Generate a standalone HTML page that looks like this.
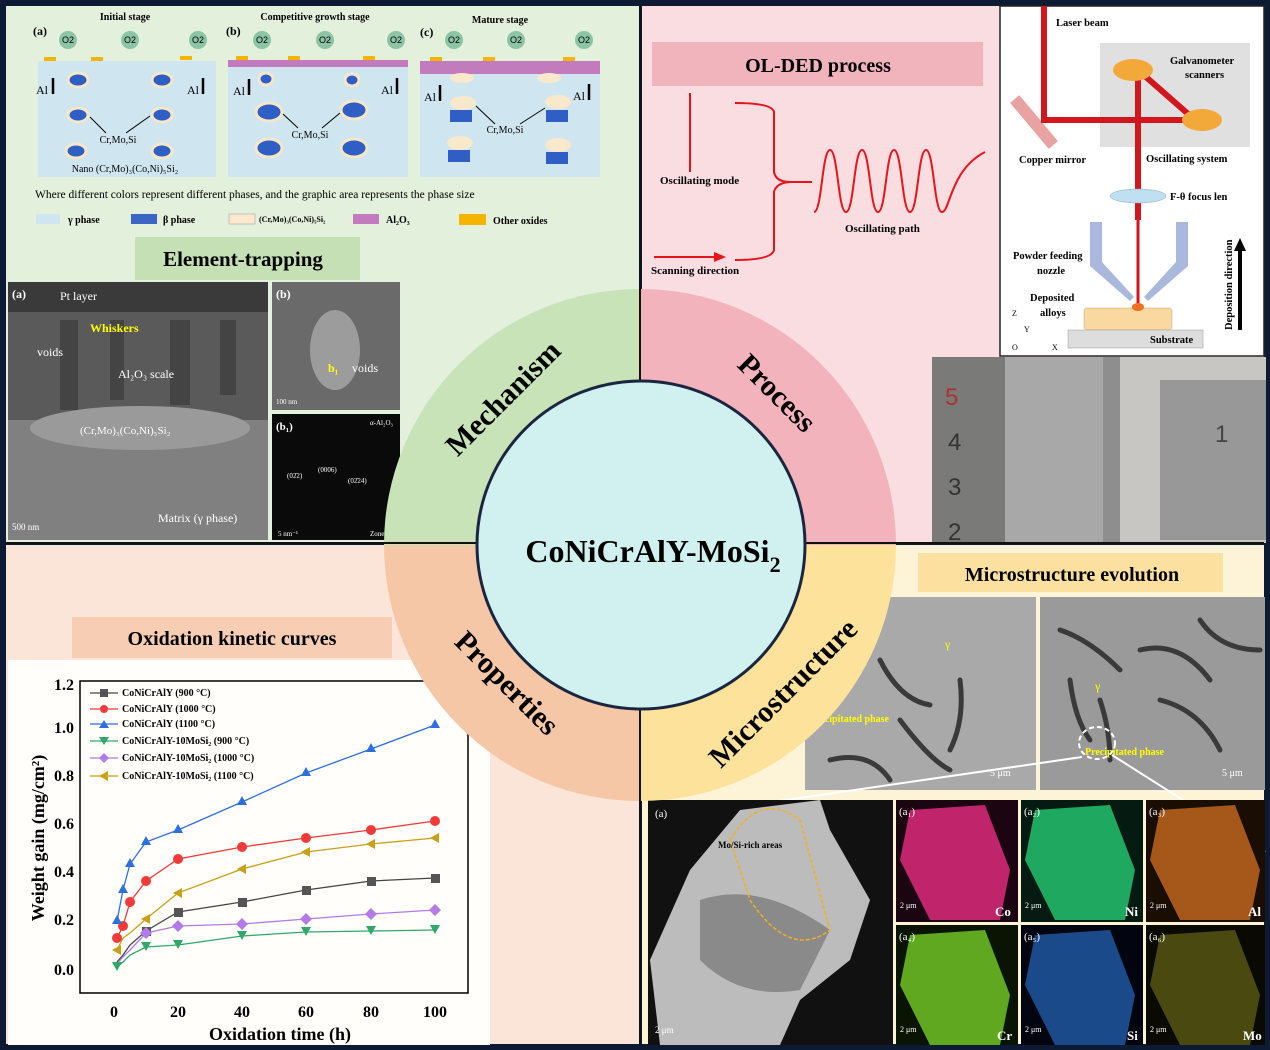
<!DOCTYPE html>
<html><head><meta charset="utf-8"><style>
html,body{margin:0;padding:0;background:#0c1a33;}
svg{display:block;font-family:"Liberation Serif",serif;}
</style></head><body>
<svg width="1270" height="1050" viewBox="0 0 1270 1050" xmlns="http://www.w3.org/2000/svg">
<rect width="1270" height="1050" fill="#0c1a33"/>
<rect x="6" y="6" width="634" height="537" fill="#e3f0dc"/>
<rect x="642" y="6" width="622" height="537" fill="#f9dde1"/>
<rect x="6" y="545" width="634" height="499" fill="#fbe5d8"/>
<rect x="642" y="545" width="622" height="499" fill="#fdf3d7"/>

<!-- TL schematic -->
<g font-size="10" font-weight="bold" text-anchor="middle">
<text x="125" y="20">Initial stage</text>
<text x="315" y="20">Competitive growth stage</text>
<text x="500" y="23">Mature stage</text>
</g>
<g font-size="12" font-weight="bold"><text x="33" y="35">(a)</text><text x="226" y="35">(b)</text><text x="420" y="36">(c)</text></g>
<g fill="#8cc5a6">
<circle cx="68" cy="40" r="9"/><circle cx="130" cy="40" r="9"/><circle cx="198" cy="40" r="9"/>
<circle cx="262" cy="40" r="9"/><circle cx="325" cy="40" r="9"/><circle cx="396" cy="40" r="9"/>
<circle cx="454" cy="40" r="9"/><circle cx="516" cy="40" r="9"/><circle cx="584" cy="40" r="9"/>
</g>
<g font-size="9" text-anchor="middle" font-family="Liberation Sans,sans-serif"><text x="68" y="43">O2</text><text x="130" y="43">O2</text><text x="198" y="43">O2</text><text x="262" y="43">O2</text><text x="325" y="43">O2</text><text x="396" y="43">O2</text><text x="454" y="43">O2</text><text x="516" y="43">O2</text><text x="584" y="43">O2</text></g>
<rect x="38" y="61" width="178" height="116" fill="#cfe6f0"/>
<rect x="228" y="61" width="180" height="116" fill="#cfe6f0"/>
<rect x="420" y="61" width="180" height="116" fill="#cfe6f0"/>
<rect x="228" y="60" width="180" height="7" fill="#c27bbd"/>
<rect x="420" y="61" width="180" height="13" fill="#c27bbd"/>
<g fill="#f4b400"><rect x="44" y="57" width="12" height="4"/><rect x="91" y="57" width="12" height="4"/><rect x="180" y="56" width="12" height="4"/><rect x="236" y="56" width="12" height="4"/><rect x="288" y="56" width="12" height="4"/><rect x="363" y="56" width="12" height="4"/><rect x="430" y="57" width="12" height="4"/><rect x="483" y="57" width="12" height="4"/><rect x="563" y="57" width="12" height="4"/></g>
<g fill="#2f5fc4" stroke="#f5e7c8" stroke-width="3">
<ellipse cx="78" cy="80" rx="10" ry="7"/><ellipse cx="162" cy="80" rx="10" ry="7"/><ellipse cx="78" cy="115" rx="10" ry="7"/><ellipse cx="162" cy="115" rx="10" ry="7"/><ellipse cx="76" cy="151" rx="10" ry="7"/><ellipse cx="162" cy="151" rx="10" ry="7"/>
<ellipse cx="266" cy="79" rx="7" ry="6"/><ellipse cx="352" cy="80" rx="7" ry="6"/><ellipse cx="269" cy="112" rx="13" ry="9"/><ellipse cx="354" cy="110" rx="13" ry="9"/><ellipse cx="269" cy="148" rx="13" ry="9"/><ellipse cx="354" cy="148" rx="13" ry="9"/>
</g>
<g>
<rect x="450" y="110" width="22" height="12" fill="#2f5fc4"/><ellipse cx="463" cy="103" rx="13" ry="7" fill="#f8e8cc"/>
<rect x="546" y="110" width="22" height="12" fill="#2f5fc4"/><ellipse cx="558" cy="102" rx="13" ry="7" fill="#f8e8cc"/>
<rect x="448" y="150" width="22" height="12" fill="#2f5fc4"/><ellipse cx="460" cy="143" rx="13" ry="7" fill="#f8e8cc"/>
<rect x="546" y="152" width="22" height="12" fill="#2f5fc4"/><ellipse cx="558" cy="145" rx="13" ry="7" fill="#f8e8cc"/>
<ellipse cx="462" cy="78" rx="12" ry="5" fill="#f8e8cc"/><ellipse cx="549" cy="78" rx="12" ry="5" fill="#f8e8cc"/>
</g>
<g font-size="12"><text x="36" y="94">Al</text><text x="187" y="94">Al</text><text x="233" y="95">Al</text><text x="381" y="94">Al</text><text x="424" y="101">Al</text><text x="573" y="100">Al</text></g>
<g stroke="#000" stroke-width="2.5"><line x1="53" y1="94" x2="53" y2="78"/><line x1="203" y1="94" x2="203" y2="78"/><line x1="249" y1="95" x2="249" y2="79"/><line x1="397" y1="94" x2="397" y2="78"/><line x1="440" y1="101" x2="440" y2="85"/><line x1="589" y1="100" x2="589" y2="84"/></g>
<g font-size="10" text-anchor="middle"><text x="118" y="143">Cr,Mo,Si</text><text x="310" y="138">Cr,Mo,Si</text><text x="505" y="133">Cr,Mo,Si</text><text x="125" y="172">Nano (Cr,Mo)₃(Co,Ni)₅Si₂</text></g>
<g stroke="#000" stroke-width="1"><line x1="106" y1="133" x2="90" y2="117"/><line x1="126" y1="133" x2="150" y2="116"/><line x1="298" y1="128" x2="283" y2="114"/><line x1="322" y1="128" x2="340" y2="113"/><line x1="495" y1="124" x2="476" y2="106"/><line x1="520" y1="124" x2="545" y2="108"/></g>
<text x="35" y="198" font-size="11.5">Where different colors represent different phases, and the graphic area represents the phase size</text>
<rect x="36" y="214" width="24" height="10" fill="#cfe6f0"/><text x="68" y="223" font-size="10" font-weight="bold">γ phase</text>
<rect x="131" y="214" width="26" height="10" fill="#3a66c4"/><text x="163" y="223" font-size="10" font-weight="bold">β phase</text>
<rect x="229" y="214" width="26" height="10" fill="#fbe8cf" stroke="#999" stroke-width=".5"/><text x="259" y="222" font-size="8" font-weight="bold">(Cr,Mo)₃(Co,Ni)₅Si₂</text>
<rect x="353" y="214" width="26" height="10" fill="#c27bbd"/><text x="386" y="223" font-size="10" font-weight="bold">Al₂O₃</text>
<rect x="459" y="214" width="27" height="11" fill="#f4b400"/><text x="493" y="224" font-size="10" font-weight="bold">Other oxides</text>
<rect x="135" y="237" width="225" height="43" fill="#c5e0b4"/>
<text x="243" y="266" font-size="21" font-weight="bold" text-anchor="middle">Element-trapping</text>
<!-- TEM -->
<rect x="8" y="282" width="260" height="258" fill="#5a5a5a"/>
<rect x="8" y="282" width="260" height="30" fill="#3a3a3a"/>
<rect x="8" y="420" width="260" height="120" fill="#808080"/>
<ellipse cx="140" cy="428" rx="110" ry="22" fill="#9a9a9a"/>
<g fill="#444"><rect x="60" y="320" width="18" height="90"/><rect x="110" y="320" width="14" height="80"/><rect x="170" y="320" width="20" height="85"/><rect x="220" y="320" width="16" height="75"/></g>
<g font-size="12" fill="#fff"><text x="12" y="298" font-weight="bold">(a)</text><text x="60" y="300">Pt layer</text><text x="37" y="356">voids</text><text x="118" y="378">Al₂O₃  scale</text><text x="80" y="434" font-size="11">(Cr,Mo)₃(Co,Ni)₅Si₂</text><text x="158" y="522">Matrix (γ phase)</text><text x="12" y="530" font-size="9">500 nm</text></g>
<text x="90" y="332" font-size="12" font-weight="bold" fill="#ff0">Whiskers</text>
<rect x="272" y="282" width="128" height="128" fill="#6a6a6a"/>
<ellipse cx="335" cy="350" rx="25" ry="40" fill="#9c9c9c"/>
<g font-size="12" fill="#fff"><text x="276" y="298" font-weight="bold">(b)</text><text x="352" y="372">voids</text><text x="276" y="404" font-size="7">100 nm</text></g>
<text x="328" y="372" font-size="12" font-weight="bold" fill="#ff0">b₁</text>
<rect x="272" y="414" width="128" height="126" fill="#0a0a0a"/>
<g font-size="7" fill="#fff"><text x="276" y="430" font-size="11" font-weight="bold">(b₁)</text><text x="370" y="425">α-Al₂O₃</text><text x="287" y="478">(02̄2)</text><text x="318" y="472">(0006)</text><text x="348" y="483">(02̄24)</text><text x="278" y="536">5 nm⁻¹</text><text x="370" y="536">Zone</text></g>

<!-- TR -->
<rect x="652" y="42" width="331" height="44" fill="#f1b4bd"/>
<text x="818" y="72" font-size="20" font-weight="bold" text-anchor="middle">OL-DED process</text>
<g stroke="#e8141a" stroke-width="2" fill="none">
<line x1="690" y1="93" x2="690" y2="172"/>
<path d="M735 103 Q772 103 774 112 L774 172 Q776 182 790 182 Q776 183 774 192 L774 250 Q772 260 735 260"/>
<line x1="790" y1="182" x2="812" y2="182"/>
<path d="M814 212 C822 212 822 150 830 150 C838 150 838 212 846 212 C854 212 854 150 862 150 C870 150 870 212 878 212 C886 212 886 150 894 150 C902 150 902 212 910 212 C918 212 918 150 926 150 C934 150 934 212 942 212 C950 212 950 170 985 152"/>
<line x1="654" y1="257" x2="716" y2="257"/>
</g>
<path d="M726 257 L714 252 L714 262Z" fill="#e8141a"/>
<g font-size="11" font-weight="bold"><text x="660" y="184">Oscillating mode</text><text x="845" y="232">Oscillating path</text><text x="651" y="274">Scanning direction</text></g>
<rect x="1000" y="6" width="264" height="350" fill="#fff" stroke="#222" stroke-width="1.5"/>
<rect x="1100" y="43" width="150" height="104" fill="#e0e0e0"/>
<rect x="1028" y="92" width="12" height="60" fill="#e9a2a2" transform="rotate(-40 1034 122)"/>
<g stroke="#d2161e" stroke-width="6" fill="none"><path d="M1044 6 L1044 120 L1195 120 L1138 70 L1138 220"/></g>
<line x1="1138" y1="220" x2="1138" y2="305" stroke="#d2161e" stroke-width="3"/>
<ellipse cx="1133" cy="70" rx="20" ry="11" fill="#f2a93a"/><ellipse cx="1202" cy="120" rx="20" ry="11" fill="#f2a93a"/>
<ellipse cx="1138" cy="196" rx="28" ry="7" fill="#bfe0f0" stroke="#8ab" stroke-width=".5"/>
<path d="M1090 222 h12 v40 l32 35 l-4 4 l-40 -35Z" fill="#a9b8dc"/>
<path d="M1188 222 h-12 v40 l-32 35 l4 4 l40 -35Z" fill="#a9b8dc"/>
<rect x="1084" y="308" width="88" height="22" rx="3" fill="#f9d9a0" stroke="#c9a060" stroke-width=".5"/>
<ellipse cx="1138" cy="307" rx="6" ry="4" fill="#f07020"/>
<rect x="1068" y="330" width="135" height="18" fill="#ddd" stroke="#999" stroke-width=".5"/>
<line x1="1240" y1="330" x2="1240" y2="250" stroke="#000" stroke-width="4"/><path d="M1240 238 l-6 13 h12Z"/>
<g font-size="10.5" font-weight="bold"><text x="1056" y="26">Laser beam</text><text x="1170" y="64">Galvanometer</text><text x="1185" y="78">scanners</text><text x="1019" y="163">Copper mirror</text><text x="1146" y="162">Oscillating system</text><text x="1170" y="200">F-θ focus len</text><text x="1013" y="259">Powder feeding</text><text x="1037" y="274">nozzle</text><text x="1030" y="301">Deposited</text><text x="1040" y="316">alloys</text><text x="1150" y="343">Substrate</text></g>
<text x="1232" y="330" font-size="10.5" font-weight="bold" transform="rotate(-90 1232 330)">Deposition direction</text>
<g font-size="8"><text x="1012" y="316">Z</text><text x="1012" y="350">O</text><text x="1052" y="350">X</text><text x="1024" y="332">Y</text></g>
<rect x="932" y="357" width="334" height="186" fill="#8e8e8e"/>
<rect x="932" y="357" width="75" height="186" fill="#7a7a78"/>
<rect x="1005" y="357" width="98" height="186" fill="#a8a8a8"/>
<rect x="1120" y="357" width="146" height="186" fill="#c8c6c2"/>
<rect x="1160" y="380" width="106" height="160" fill="#989898"/>
<g font-size="24" fill="#333" font-family="Liberation Sans,sans-serif"><text x="945" y="405" fill="#a33">5</text><text x="948" y="450">4</text><text x="948" y="495">3</text><text x="948" y="540">2</text><text x="1215" y="442" fill="#444">1</text></g>

<!-- BL graph -->
<rect x="8" y="660" width="482" height="385" fill="#fffefb"/>
<rect x="72" y="617" width="320" height="41" fill="#f7cdb3"/>
<text x="232" y="645" font-size="20" font-weight="bold" text-anchor="middle">Oxidation kinetic curves</text>
<rect x="80" y="681" width="388" height="312" fill="none" stroke="#000" stroke-width="1.5"/>
<g font-size="16" font-weight="bold" text-anchor="end"><text x="74" y="690">1.2</text><text x="74" y="733">1.0</text><text x="74" y="781">0.8</text><text x="74" y="829">0.6</text><text x="74" y="877">0.4</text><text x="74" y="925">0.2</text><text x="74" y="975">0.0</text></g>
<g font-size="16" font-weight="bold" text-anchor="middle"><text x="114" y="1017">0</text><text x="178" y="1017">20</text><text x="242" y="1017">40</text><text x="306" y="1017">60</text><text x="371" y="1017">80</text><text x="435" y="1017">100</text><text x="280" y="1040" font-size="18">Oxidation time (h)</text></g>
<text x="44" y="838" font-size="18" font-weight="bold" text-anchor="middle" transform="rotate(-90 44 838)">Weight gain (mg/cm²)</text>
<g fill="none" stroke-width="1.3">
<polyline stroke="#444" points="117,962 123,955 130,945 146,931 178,912 242,902 306,890 371,881 435,878"/>
<polyline stroke="#f03a3a" points="117,938 123,926 130,902 146,881 178,859 242,847 306,838 371,830 435,821"/>
<polyline stroke="#2e6fe0" points="117,921 123,890 130,864 146,842 178,830 242,802 306,773 371,749 435,725"/>
<polyline stroke="#2fa86a" points="117,967 123,962 130,955 146,947 178,945 242,936 306,932 371,931 435,930"/>
<polyline stroke="#b27be8" points="117,964 123,957 130,950 146,933 178,926 242,924 306,919 371,914 435,910"/>
<polyline stroke="#c9a017" points="117,950 123,938 130,933 146,919 178,893 242,869 306,852 371,844 435,838"/>
</g>
<g fill="#555"><rect x="174" y="908" width="9" height="9"/><rect x="238" y="898" width="9" height="9"/><rect x="302" y="886" width="9" height="9"/><rect x="367" y="877" width="9" height="9"/><rect x="431" y="874" width="9" height="9"/><rect x="142" y="927" width="9" height="9"/></g>
<g fill="#f03a3a"><circle cx="117" cy="938" r="5"/><circle cx="123" cy="926" r="5"/><circle cx="130" cy="902" r="5"/><circle cx="146" cy="881" r="5"/><circle cx="178" cy="859" r="5"/><circle cx="242" cy="847" r="5"/><circle cx="306" cy="838" r="5"/><circle cx="371" cy="830" r="5"/><circle cx="435" cy="821" r="5"/></g>
<g fill="#2e6fe0"><path d="M117 915l5 9h-10z M123 884l5 9h-10z M130 858l5 9h-10z M146 836l5 9h-10z M178 824l5 9h-10z M242 796l5 9h-10z M306 767l5 9h-10z M371 743l5 9h-10z M435 719l5 9h-10z"/></g>
<g fill="#2fa86a"><path d="M117 971l5 -9h-10z M146 951l5 -9h-10z M178 949l5 -9h-10z M242 940l5 -9h-10z M306 936l5 -9h-10z M371 935l5 -9h-10z M435 934l5 -9h-10z"/></g>
<g fill="#b27be8"><path d="M146 927l6 6l-6 6l-6 -6z M178 920l6 6l-6 6l-6 -6z M242 918l6 6l-6 6l-6 -6z M306 913l6 6l-6 6l-6 -6z M371 908l6 6l-6 6l-6 -6z M435 904l6 6l-6 6l-6 -6z"/></g>
<g fill="#c9a017"><path d="M112 950l9 -5v10z M141 919l9 -5v10z M173 893l9 -5v10z M237 869l9 -5v10z M301 852l9 -5v10z M366 844l9 -5v10z M430 838l9 -5v10z"/></g>
<g font-size="10" font-weight="bold">
<text x="122" y="696">CoNiCrAlY (900 °C)</text><text x="122" y="712">CoNiCrAlY (1000 °C)</text><text x="122" y="727">CoNiCrAlY (1100 °C)</text><text x="122" y="744">CoNiCrAlY-10MoSi₂ (900 °C)</text><text x="122" y="761">CoNiCrAlY-10MoSi₂ (1000 °C)</text><text x="122" y="779">CoNiCrAlY-10MoSi₂ (1100 °C)</text></g>
<g stroke-width="1.2"><line x1="90" y1="693" x2="118" y2="693" stroke="#444"/><line x1="90" y1="709" x2="118" y2="709" stroke="#f03a3a"/><line x1="90" y1="724" x2="118" y2="724" stroke="#2e6fe0"/><line x1="90" y1="741" x2="118" y2="741" stroke="#2fa86a"/><line x1="90" y1="758" x2="118" y2="758" stroke="#b27be8"/><line x1="90" y1="776" x2="118" y2="776" stroke="#c9a017"/></g>
<rect x="100" y="689" width="8" height="8" fill="#555"/><circle cx="104" cy="709" r="4" fill="#f03a3a"/><path d="M104 720l5 8h-10z" fill="#2e6fe0"/><path d="M104 745l5 -8h-10z" fill="#2fa86a"/><path d="M104 753l5 5l-5 5l-5 -5z" fill="#b27be8"/><path d="M99 776l9 -5v10z" fill="#c9a017"/>

<!-- BR -->
<rect x="918" y="553" width="305" height="39" fill="#fbe0a0"/>
<text x="1072" y="581" font-size="20" font-weight="bold" text-anchor="middle">Microstructure evolution</text>
<rect x="805" y="597" width="231" height="193" fill="#a9a9a9"/>
<rect x="1040" y="597" width="225" height="193" fill="#9a9a9a"/>
<g fill="none" stroke="#3a3a3a" stroke-width="5" stroke-linecap="round">
<path d="M880 660 Q900 700 930 705 M900 720 Q930 760 950 770 M960 680 q5 40 -10 70 M830 760 q40 -10 60 20"/>
<path d="M1060 630 q30 10 60 40 M1070 680 q5 40 20 60 M1100 700 q10 30 10 60 M1140 650 q40 -10 70 30 M1160 700 q40 10 60 50 M1200 620 q20 30 60 30"/>
</g>
<g fill="#ff0" font-size="12"><text x="945" y="648">γ</text><text x="1095" y="690">γ</text><text x="810" y="722" font-size="10" font-weight="bold">Precipitated phase</text><text x="1085" y="755" font-size="10" font-weight="bold">Precipitated phase</text></g>
<ellipse cx="1097" cy="743" rx="18" ry="16" fill="none" stroke="#fff" stroke-width="2" stroke-dasharray="5 3"/>
<g stroke="#fff" stroke-width="2"><line x1="1082" y1="757" x2="648" y2="820"/><line x1="1112" y1="755" x2="1265" y2="852"/></g>
<g fill="#fff" font-size="10"><text x="990" y="776">5 μm</text><text x="1222" y="776">5 μm</text></g>
<rect x="648" y="800" width="245" height="245" fill="#111"/>
<path d="M690 870 L740 810 L820 800 L830 830 L870 900 L850 960 L800 1000 L780 1045 L660 1045 L650 960Z" fill="#bcbcbc"/>
<path d="M700 900 Q760 880 830 930 L800 990 Q740 1000 700 960Z" fill="#8a8a8a"/>
<path d="M730 840 Q760 790 800 820 L830 930 Q790 960 750 900Z" fill="none" stroke="#f0b020" stroke-width="1.5" stroke-dasharray="4 2"/>
<g font-size="9" font-weight="bold"><text x="718" y="848">Mo/Si-rich areas</text></g>
<g font-size="11" fill="#fff"><text x="655" y="817">(a)</text><text x="655" y="1033" font-size="9">2 μm</text></g>
<g>
<rect x="896" y="800" width="122" height="122" fill="#1a0510"/><path d="M910 810 L985 805 L1010 870 L1000 920 L930 920 L900 860Z" fill="#c0256c"/>
<rect x="1021" y="800" width="122" height="122" fill="#051a10"/><path d="M1035 810 L1110 805 L1135 870 L1125 920 L1055 920 L1025 860Z" fill="#1fa860"/>
<rect x="1146" y="800" width="119" height="122" fill="#1a0e02"/><path d="M1160 810 L1235 805 L1260 870 L1250 920 L1180 920 L1150 860Z" fill="#a5581a"/>
<rect x="896" y="925" width="122" height="120" fill="#0a1402"/><path d="M910 935 L985 930 L1010 995 L1000 1045 L930 1045 L900 985Z" fill="#5fa820"/>
<rect x="1021" y="925" width="122" height="120" fill="#02050f"/><path d="M1035 935 L1110 930 L1135 995 L1125 1045 L1055 1045 L1025 985Z" fill="#1a4a8a"/>
<rect x="1146" y="925" width="119" height="120" fill="#0a0a02"/><path d="M1160 935 L1235 930 L1260 995 L1250 1045 L1180 1045 L1150 985Z" fill="#4a4a10"/>
</g>
<g fill="#fff" font-size="11"><text x="899" y="815">(a₁)</text><text x="1024" y="815">(a₂)</text><text x="1149" y="815">(a₃)</text><text x="899" y="940">(a₄)</text><text x="1024" y="940">(a₅)</text><text x="1149" y="940">(a₆)</text>
<g font-size="13" font-weight="bold"><text x="995" y="916">Co</text><text x="1125" y="916">Ni</text><text x="1248" y="916">Al</text><text x="997" y="1040">Cr</text><text x="1127" y="1040">Si</text><text x="1243" y="1040">Mo</text></g>
<g font-size="8"><text x="900" y="908">2 μm</text><text x="1025" y="908">2 μm</text><text x="1150" y="908">2 μm</text><text x="900" y="1032">2 μm</text><text x="1025" y="1032">2 μm</text><text x="1150" y="1032">2 μm</text></g></g>

<!-- central ring -->
<path d="M640 545 L384 545 A256 256 0 0 1 640 289Z" fill="#c9e3b9"/>
<path d="M640 545 L640 289 A256 256 0 0 1 896 545Z" fill="#f2b3bd"/>
<path d="M640 545 L384 545 A256 256 0 0 0 640 801Z" fill="#f5c7a6"/>
<path d="M640 545 L640 801 A256 256 0 0 0 896 545Z" fill="#fce29b"/>
<line x1="640" y1="6" x2="640" y2="1044" stroke="#111" stroke-width="2"/>
<line x1="6" y1="543" x2="1264" y2="543" stroke="#111" stroke-width="2"/>
<circle cx="641" cy="545" r="164" fill="#d1f1f0" stroke="#1a2540" stroke-width="3"/>
<text x="653" y="562" font-size="32" font-weight="bold" text-anchor="middle">CoNiCrAlY-MoSi<tspan font-size="22" dy="10">2</tspan></text>
<g font-size="30" font-weight="bold" text-anchor="middle">
<text transform="translate(510 405) rotate(-45)">Mechanism</text>
<text transform="translate(770 400) rotate(45)">Process</text>
<text transform="translate(500 690) rotate(45)">Properties</text>
<text transform="translate(790 700) rotate(-45)">Microstructure</text>
</g>
</svg>
</body></html>
